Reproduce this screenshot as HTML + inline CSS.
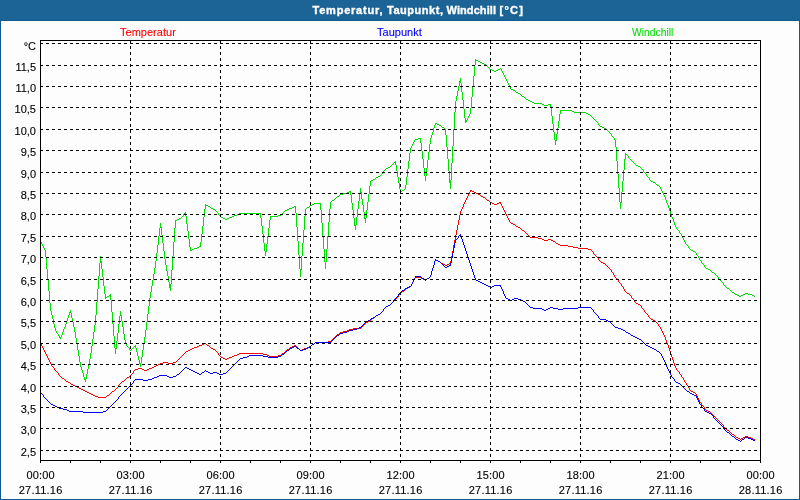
<!DOCTYPE html>
<html><head><meta charset="utf-8"><title>Temperatur, Taupunkt, Windchill</title>
<style>
html,body{margin:0;padding:0;background:#fcfdfc;}
body{width:800px;height:500px;overflow:hidden;font-family:"Liberation Sans",sans-serif;}
svg{display:block;position:absolute;left:0;top:0;}
text{font-family:"Liberation Sans",sans-serif;font-size:11px;}
</style></head><body>
<svg width="800" height="500" viewBox="0 0 800 500">
<rect x="0" y="0" width="800" height="500" fill="#fcfdfc"/>
<rect x="0" y="0" width="800" height="21" fill="#1c6396"/>
<g shape-rendering="crispEdges">
<rect x="0" y="20" width="800" height="1" fill="#115995"/>
<rect x="0" y="21" width="800" height="1" fill="#ffffff"/>
<rect x="1" y="21" width="1" height="478" fill="#ffffff"/>
<rect x="798" y="21" width="1" height="478" fill="#ffffff"/>
<rect x="1" y="498" width="798" height="1" fill="#ffffff"/>
<rect x="0" y="20" width="1" height="480" fill="#115995"/>
<rect x="799" y="20" width="1" height="480" fill="#115995"/>
<rect x="0" y="499" width="800" height="1" fill="#115995"/>
<g fill="none" stroke-width="1">
<path stroke="#00dd00" d="M40.5 241V242M41.5 242V244M42.5 244V246M43.5 246V248M44.5 248V250M45.5 250V257M46.5 257V269M47.5 269V280M48.5 280V291M49.5 291V303M50.5 303V311M51.5 311V315M52.5 315V319M53.5 319V324M54.5 324V328M55.5 328V331M56.5 331V333M57.5 333V334M58.5 334V336M59.5 336V338M60.5 337V339M61.5 335V337M62.5 332V335M63.5 329V332M64.5 327V329M65.5 324V327M66.5 321V324M67.5 318V321M68.5 315V318M69.5 312V315M70.5 310V313M71.5 313V318M72.5 318V322M73.5 322V327M74.5 327V332M75.5 332V338M76.5 338V344M77.5 344V350M78.5 350V356M79.5 356V362M80.5 362V367M81.5 367V370M82.5 370V373M83.5 373V377M84.5 377V380M85.5 379V382M86.5 374V379M87.5 369V374M88.5 364V369M89.5 359V364M90.5 353V359M91.5 346V353M92.5 339V346M93.5 332V339M94.5 325V332M95.5 315V325M96.5 302V315M97.5 289V302M98.5 276V289M99.5 263V276M100.5 256V263M101.5 261V269M102.5 269V277M103.5 277V286M104.5 286V294M105.5 294V299M106.5 297V298M107.5 296V297M108.5 296V297M109.5 295V296M110.5 294V300M111.5 300V312M112.5 312V324M113.5 324V336M114.5 336V348M115.5 348V354M116.5 341V349M117.5 333V341M118.5 324V333M119.5 316V324M120.5 311V316M121.5 315V321M122.5 321V327M123.5 327V334M124.5 334V340M125.5 340V344M126.5 344V346M127.5 346V347M128.5 347V348M129.5 348V350M130.5 350V351M131.5 349V350M132.5 348V349M133.5 347V348M134.5 346V347M135.5 345V348M136.5 348V352M137.5 352V356M138.5 356V360M139.5 360V364M140.5 363V367M141.5 357V363M142.5 350V357M143.5 343V350M144.5 337V343M145.5 330V337M146.5 322V330M147.5 314V322M148.5 306V314M149.5 298V306M150.5 292V298M151.5 286V292M152.5 280V286M153.5 274V280M154.5 268V274M155.5 261V268M156.5 253V261M157.5 245V253M158.5 236V245M159.5 228V236M160.5 223V228M161.5 227V235M162.5 235V243M163.5 243V251M164.5 251V259M165.5 259V265M166.5 265V271M167.5 271V276M168.5 276V282M169.5 282V288M170.5 284V291M171.5 270V284M172.5 256V270M173.5 242V256M174.5 228V242M175.5 220V228M176.5 220V221M177.5 219V220M178.5 219V220M179.5 218V219M180.5 218V219M181.5 217V218M182.5 216V217M183.5 214V216M184.5 213V214M185.5 212V216M186.5 216V224M187.5 224V231M188.5 231V239M189.5 239V247M190.5 247V251M191.5 250V251M192.5 249V250M193.5 249V250M194.5 248V249M195.5 248V249M196.5 248V249M197.5 247V248M198.5 247V248M199.5 246V247M200.5 242V247M201.5 234V242M202.5 226V234M203.5 217V226M204.5 209V217M205.5 204V209M206.5 205V206M207.5 205V206M208.5 206V207M209.5 206V207M210.5 207V208M211.5 208V209M212.5 208V209M213.5 209V210M214.5 209V210M215.5 210V211M216.5 211V212M217.5 212V213M218.5 213V215M219.5 215V216M220.5 216V217M221.5 217V218M222.5 217V218M223.5 218V219M224.5 218V219M225.5 219V220M226.5 219V220M227.5 218V219M228.5 218V219M229.5 217V218M230.5 217V218M231.5 217V218M232.5 216V217M233.5 216V217M234.5 215V216M235.5 215V216M236.5 215V216M237.5 214V215M238.5 214V215M239.5 213V214M240.5 213V214M241.5 213V214M242.5 213V214M243.5 213V214M244.5 213V214M245.5 213V214M246.5 213V214M247.5 213V214M248.5 213V214M249.5 213V214M250.5 213V214M251.5 213V214M252.5 213V214M253.5 213V214M254.5 213V214M255.5 213V214M256.5 213V214M257.5 213V214M258.5 213V214M259.5 213V214M260.5 213V218M261.5 218V226M262.5 226V234M263.5 234V243M264.5 243V251M265.5 251V256M266.5 244V252M267.5 236V244M268.5 228V236M269.5 220V228M270.5 216V220M271.5 216V217M272.5 216V217M273.5 216V217M274.5 216V217M275.5 216V217M276.5 216V217M277.5 216V217M278.5 215V216M279.5 215V216M280.5 215V216M281.5 214V215M282.5 213V214M283.5 212V213M284.5 211V212M285.5 210V211M286.5 210V211M287.5 209V210M288.5 209V210M289.5 208V209M290.5 208V209M291.5 208V209M292.5 207V208M293.5 207V208M294.5 206V207M295.5 206V213M296.5 213V227M297.5 227V241M298.5 241V255M299.5 255V269M300.5 269V277M301.5 256V270M302.5 243V256M303.5 230V243M304.5 216V230M305.5 209V216M306.5 208V209M307.5 207V208M308.5 207V208M309.5 206V207M310.5 205V206M311.5 205V206M312.5 204V205M313.5 204V205M314.5 203V204M315.5 203V204M316.5 203V204M317.5 203V204M318.5 203V204M319.5 203V204M320.5 203V210M321.5 210V223M322.5 223V236M323.5 236V249M324.5 249V262M325.5 262V269M326.5 249V262M327.5 236V249M328.5 222V236M329.5 209V222M330.5 202V209M331.5 201V202M332.5 200V201M333.5 200V201M334.5 199V200M335.5 198V199M336.5 197V198M337.5 196V197M338.5 196V197M339.5 195V196M340.5 194V195M341.5 194V195M342.5 194V195M343.5 193V194M344.5 193V194M345.5 193V194M346.5 193V194M347.5 192V193M348.5 192V193M349.5 191V192M350.5 191V195M351.5 195V203M352.5 203V210M353.5 210V218M354.5 218V226M355.5 225V230M356.5 217V225M357.5 209V217M358.5 201V209M359.5 193V201M360.5 188V193M361.5 192V199M362.5 199V205M363.5 205V212M364.5 212V219M365.5 218V223M366.5 210V218M367.5 202V210M368.5 194V202M369.5 186V194M370.5 181V186M371.5 180V181M372.5 180V181M373.5 179V180M374.5 179V180M375.5 178V179M376.5 177V178M377.5 177V178M378.5 176V177M379.5 176V177M380.5 175V176M381.5 174V175M382.5 173V174M383.5 171V173M384.5 170V171M385.5 169V170M386.5 168V169M387.5 168V169M388.5 167V168M389.5 167V168M390.5 166V167M391.5 165V166M392.5 164V165M393.5 163V164M394.5 162V163M395.5 161V165M396.5 165V171M397.5 171V177M398.5 177V183M399.5 183V189M400.5 189V193M401.5 191V192M402.5 190V191M403.5 190V191M404.5 189V190M405.5 185V189M406.5 177V185M407.5 169V177M408.5 161V169M409.5 153V161M410.5 148V153M411.5 146V148M412.5 144V146M413.5 142V144M414.5 140V142M415.5 139V140M416.5 139V140M417.5 139V140M418.5 138V139M419.5 138V139M420.5 138V143M421.5 143V151M422.5 151V159M423.5 159V168M424.5 168V176M425.5 176V181M426.5 168V176M427.5 160V168M428.5 152V160M429.5 144V152M430.5 138V144M431.5 135V138M432.5 132V135M433.5 128V132M434.5 125V128M435.5 123V125M436.5 123V124M437.5 124V125M438.5 124V125M439.5 125V126M440.5 125V126M441.5 126V127M442.5 127V128M443.5 127V128M444.5 128V129M445.5 129V135M446.5 135V147M447.5 147V159M448.5 159V171M449.5 171V183M450.5 180V189M451.5 163V180M452.5 146V163M453.5 129V146M454.5 112V129M455.5 101V112M456.5 96V101M457.5 91V96M458.5 86V91M459.5 81V86M460.5 78V83M461.5 83V92M462.5 92V100M463.5 100V109M464.5 109V118M465.5 118V123M466.5 120V122M467.5 118V120M468.5 116V118M469.5 114V116M470.5 108V114M471.5 97V108M472.5 87V97M473.5 76V87M474.5 65V76M475.5 59V65M476.5 60V61M477.5 60V61M478.5 61V62M479.5 61V62M480.5 62V63M481.5 62V63M482.5 63V64M483.5 63V64M484.5 64V65M485.5 64V65M486.5 65V66M487.5 66V67M488.5 67V68M489.5 68V69M490.5 69V70M491.5 69V70M492.5 70V71M493.5 70V71M494.5 71V72M495.5 71V72M496.5 70V71M497.5 70V71M498.5 69V70M499.5 69V70M500.5 68V69M501.5 69V71M502.5 71V73M503.5 73V75M504.5 75V77M505.5 77V79M506.5 79V81M507.5 81V83M508.5 83V85M509.5 85V87M510.5 87V89M511.5 89V90M512.5 89V90M513.5 90V91M514.5 90V91M515.5 91V92M516.5 92V93M517.5 92V93M518.5 93V94M519.5 93V94M520.5 94V95M521.5 95V96M522.5 96V97M523.5 96V97M524.5 97V98M525.5 98V99M526.5 99V100M527.5 99V100M528.5 100V101M529.5 100V101M530.5 101V102M531.5 101V102M532.5 102V103M533.5 102V103M534.5 103V104M535.5 103V104M536.5 103V104M537.5 103V104M538.5 103V104M539.5 103V104M540.5 103V104M541.5 103V104M542.5 104V105M543.5 104V105M544.5 105V106M545.5 105V106M546.5 105V106M547.5 105V106M548.5 104V105M549.5 104V105M550.5 104V108M551.5 108V116M552.5 116V124M553.5 124V132M554.5 132V140M555.5 140V145M556.5 134V141M557.5 128V134M558.5 121V128M559.5 114V121M560.5 110V114M561.5 110V111M562.5 110V111M563.5 110V111M564.5 110V111M565.5 110V111M566.5 110V111M567.5 110V111M568.5 110V111M569.5 110V111M570.5 110V111M571.5 110V111M572.5 111V112M573.5 111V112M574.5 112V113M575.5 112V113M576.5 112V113M577.5 112V113M578.5 112V113M579.5 112V113M580.5 112V113M581.5 112V113M582.5 112V113M583.5 112V113M584.5 112V113M585.5 112V113M586.5 113V114M587.5 113V114M588.5 114V115M589.5 114V115M590.5 115V116M591.5 116V117M592.5 117V118M593.5 118V119M594.5 119V120M595.5 120V121M596.5 121V122M597.5 122V123M598.5 123V125M599.5 125V126M600.5 126V127M601.5 126V127M602.5 127V128M603.5 127V128M604.5 128V129M605.5 128V129M606.5 129V130M607.5 130V131M608.5 131V132M609.5 132V133M610.5 133V134M611.5 134V136M612.5 136V137M613.5 137V138M614.5 138V140M615.5 140V147M616.5 147V161M617.5 161V174M618.5 174V188M619.5 188V202M620.5 202V209M621.5 192V203M622.5 181V192M623.5 170V181M624.5 159V170M625.5 153V159M626.5 154V155M627.5 155V156M628.5 156V158M629.5 158V159M630.5 159V160M631.5 160V161M632.5 161V162M633.5 162V163M634.5 163V164M635.5 164V165M636.5 165V166M637.5 165V166M638.5 166V167M639.5 166V167M640.5 167V168M641.5 168V169M642.5 169V170M643.5 170V172M644.5 172V173M645.5 173V174M646.5 174V176M647.5 176V177M648.5 177V178M649.5 178V180M650.5 180V181M651.5 181V182M652.5 181V182M653.5 182V183M654.5 182V183M655.5 183V184M656.5 184V185M657.5 185V186M658.5 185V186M659.5 186V187M660.5 187V189M661.5 189V191M662.5 191V193M663.5 193V195M664.5 195V197M665.5 197V200M666.5 200V203M667.5 203V205M668.5 205V208M669.5 208V211M670.5 211V214M671.5 214V217M672.5 217V219M673.5 219V222M674.5 222V225M675.5 225V227M676.5 227V229M677.5 229V230M678.5 230V231M679.5 231V233M680.5 233V234M681.5 234V236M682.5 236V238M683.5 238V240M684.5 240V242M685.5 242V244M686.5 244V245M687.5 245V246M688.5 246V248M689.5 248V249M690.5 249V250M691.5 250V251M692.5 250V251M693.5 251V252M694.5 251V252M695.5 252V253M696.5 253V255M697.5 255V256M698.5 256V258M699.5 258V260M700.5 260V261M701.5 261V263M702.5 263V264M703.5 264V265M704.5 265V267M705.5 267V268M706.5 268V269M707.5 268V269M708.5 269V270M709.5 269V270M710.5 270V271M711.5 271V272M712.5 272V273M713.5 272V273M714.5 273V274M715.5 274V275M716.5 275V276M717.5 276V277M718.5 277V279M719.5 279V280M720.5 280V281M721.5 281V282M722.5 282V283M723.5 283V285M724.5 285V286M725.5 286V287M726.5 287V288M727.5 288V289M728.5 288V289M729.5 289V290M730.5 290V291M731.5 291V292M732.5 292V293M733.5 292V293M734.5 293V294M735.5 294V295M736.5 294V295M737.5 295V296M738.5 295V296M739.5 296V297M740.5 296V297M741.5 295V296M742.5 295V296M743.5 294V295M744.5 294V295M745.5 293V294M746.5 293V294M747.5 293V294M748.5 294V295M749.5 294V295M750.5 294V295M751.5 294V295M752.5 295V296M753.5 295V296M754.5 296V297"/>
<path stroke="#ff0000" d="M40.5 342V344M41.5 344V346M42.5 346V348M43.5 348V350M44.5 350V352M45.5 352V354M46.5 354V356M47.5 356V358M48.5 358V360M49.5 360V362M50.5 362V364M51.5 364V366M52.5 366V367M53.5 367V368M54.5 368V370M55.5 370V371M56.5 371V372M57.5 372V373M58.5 373V375M59.5 375V376M60.5 376V377M61.5 377V378M62.5 378V379M63.5 378V379M64.5 379V380M65.5 380V381M66.5 381V382M67.5 381V382M68.5 382V383M69.5 382V383M70.5 383V384M71.5 384V385M72.5 384V385M73.5 385V386M74.5 385V386M75.5 386V387M76.5 386V387M77.5 387V388M78.5 387V388M79.5 388V389M80.5 388V389M81.5 389V390M82.5 389V390M83.5 390V391M84.5 390V391M85.5 391V392M86.5 391V392M87.5 392V393M88.5 392V393M89.5 393V394M90.5 393V394M91.5 394V395M92.5 394V395M93.5 395V396M94.5 395V396M95.5 396V397M96.5 396V397M97.5 396V397M98.5 397V398M99.5 397V398M100.5 397V398M101.5 397V398M102.5 397V398M103.5 397V398M104.5 397V398M105.5 397V398M106.5 396V397M107.5 395V396M108.5 395V396M109.5 394V395M110.5 393V394M111.5 392V393M112.5 391V392M113.5 391V392M114.5 390V391M115.5 389V390M116.5 388V389M117.5 387V388M118.5 385V387M119.5 384V385M120.5 383V384M121.5 382V383M122.5 381V382M123.5 381V382M124.5 380V381M125.5 379V380M126.5 378V379M127.5 377V378M128.5 377V378M129.5 376V377M130.5 375V376M131.5 374V375M132.5 373V374M133.5 371V373M134.5 370V371M135.5 369V370M136.5 369V370M137.5 369V370M138.5 368V369M139.5 368V369M140.5 368V369M141.5 368V369M142.5 369V370M143.5 369V370M144.5 370V371M145.5 370V371M146.5 370V371M147.5 369V370M148.5 369V370M149.5 368V369M150.5 368V369M151.5 368V369M152.5 367V368M153.5 367V368M154.5 366V367M155.5 366V367M156.5 365V366M157.5 365V366M158.5 364V365M159.5 364V365M160.5 363V364M161.5 363V364M162.5 363V364M163.5 362V363M164.5 362V363M165.5 362V363M166.5 362V363M167.5 362V363M168.5 363V364M169.5 363V364M170.5 363V364M171.5 363V364M172.5 363V364M173.5 362V363M174.5 362V363M175.5 362V363M176.5 361V362M177.5 360V361M178.5 359V360M179.5 358V359M180.5 357V358M181.5 356V357M182.5 355V356M183.5 354V355M184.5 353V354M185.5 352V353M186.5 351V352M187.5 351V352M188.5 350V351M189.5 350V351M190.5 349V350M191.5 349V350M192.5 348V349M193.5 348V349M194.5 347V348M195.5 347V348M196.5 347V348M197.5 346V347M198.5 346V347M199.5 345V346M200.5 345V346M201.5 345V346M202.5 344V345M203.5 344V345M204.5 343V344M205.5 343V344M206.5 344V345M207.5 345V346M208.5 345V346M209.5 346V347M210.5 347V348M211.5 348V349M212.5 348V349M213.5 349V350M214.5 349V350M215.5 350V351M216.5 351V352M217.5 352V353M218.5 353V355M219.5 355V356M220.5 356V357M221.5 357V358M222.5 357V358M223.5 358V359M224.5 358V359M225.5 359V360M226.5 359V360M227.5 358V359M228.5 358V359M229.5 357V358M230.5 357V358M231.5 357V358M232.5 356V357M233.5 356V357M234.5 355V356M235.5 355V356M236.5 355V356M237.5 354V355M238.5 354V355M239.5 353V354M240.5 353V354M241.5 353V354M242.5 353V354M243.5 353V354M244.5 353V354M245.5 353V354M246.5 353V354M247.5 353V354M248.5 353V354M249.5 353V354M250.5 353V354M251.5 353V354M252.5 353V354M253.5 353V354M254.5 353V354M255.5 353V354M256.5 353V354M257.5 353V354M258.5 353V354M259.5 353V354M260.5 353V354M261.5 353V354M262.5 353V354M263.5 354V355M264.5 354V355M265.5 354V355M266.5 354V355M267.5 355V356M268.5 355V356M269.5 356V357M270.5 356V357M271.5 356V357M272.5 356V357M273.5 356V357M274.5 356V357M275.5 356V357M276.5 356V357M277.5 356V357M278.5 355V356M279.5 355V356M280.5 355V356M281.5 354V355M282.5 353V354M283.5 353V354M284.5 352V353M285.5 351V352M286.5 350V351M287.5 349V350M288.5 349V350M289.5 348V349M290.5 347V348M291.5 347V348M292.5 346V347M293.5 346V347M294.5 345V346M295.5 345V346M296.5 346V347M297.5 347V348M298.5 348V349M299.5 349V350M300.5 350V351M301.5 350V351M302.5 349V350M303.5 349V350M304.5 348V349M305.5 348V349M306.5 348V349M307.5 347V348M308.5 347V348M309.5 346V347M310.5 346V347M311.5 345V346M312.5 344V345M313.5 344V345M314.5 343V344M315.5 342V343M316.5 342V343M317.5 342V343M318.5 342V343M319.5 342V343M320.5 342V343M321.5 342V343M322.5 342V343M323.5 342V343M324.5 342V343M325.5 342V343M326.5 342V343M327.5 342V343M328.5 341V342M329.5 341V342M330.5 341V342M331.5 340V341M332.5 339V340M333.5 338V339M334.5 337V338M335.5 336V337M336.5 335V336M337.5 334V335M338.5 334V335M339.5 333V334M340.5 332V333M341.5 332V333M342.5 332V333M343.5 331V332M344.5 331V332M345.5 331V332M346.5 331V332M347.5 330V331M348.5 330V331M349.5 329V330M350.5 329V330M351.5 329V330M352.5 329V330M353.5 328V329M354.5 328V329M355.5 328V329M356.5 328V329M357.5 328V329M358.5 328V329M359.5 328V329M360.5 328V329M361.5 327V328M362.5 326V327M363.5 325V326M364.5 324V325M365.5 323V324M366.5 322V323M367.5 322V323M368.5 321V322M369.5 321V322M370.5 320V321M371.5 319V320M372.5 318V319M373.5 318V319M374.5 317V318M375.5 316V317M376.5 315V316M377.5 315V316M378.5 314V315M379.5 314V315M380.5 313V314M381.5 312V313M382.5 311V312M383.5 309V311M384.5 308V309M385.5 307V308M386.5 306V307M387.5 306V307M388.5 305V306M389.5 305V306M390.5 304V305M391.5 303V304M392.5 302V303M393.5 301V302M394.5 300V301M395.5 299V300M396.5 298V299M397.5 297V298M398.5 295V297M399.5 294V295M400.5 293V294M401.5 292V293M402.5 291V292M403.5 291V292M404.5 290V291M405.5 289V290M406.5 288V289M407.5 288V289M408.5 287V288M409.5 287V288M410.5 286V287M411.5 284V286M412.5 282V284M413.5 280V282M414.5 278V280M415.5 277V278M416.5 277V278M417.5 277V278M418.5 277V278M419.5 277V278M420.5 277V278M421.5 278V279M422.5 278V279M423.5 279V280M424.5 279V280M425.5 280V281M426.5 279V280M427.5 278V279M428.5 278V279M429.5 277V278M430.5 275V277M431.5 271V275M432.5 268V271M433.5 265V268M434.5 261V265M435.5 259V261M436.5 260V261M437.5 260V261M438.5 261V262M439.5 261V262M440.5 262V263M441.5 263V264M442.5 263V264M443.5 264V265M444.5 264V265M445.5 265V266M446.5 265V266M447.5 264V265M448.5 264V265M449.5 263V264M450.5 261V264M451.5 256V261M452.5 251V256M453.5 245V251M454.5 240V245M455.5 235V240M456.5 230V235M457.5 225V230M458.5 220V225M459.5 215V220M460.5 211V215M461.5 209V211M462.5 207V209M463.5 204V207M464.5 202V204M465.5 200V202M466.5 198V200M467.5 196V198M468.5 194V196M469.5 192V194M470.5 190V192M471.5 190V191M472.5 191V192M473.5 191V192M474.5 192V193M475.5 192V193M476.5 193V194M477.5 193V194M478.5 194V195M479.5 194V195M480.5 195V196M481.5 196V197M482.5 196V197M483.5 197V198M484.5 197V198M485.5 198V199M486.5 199V200M487.5 200V201M488.5 200V201M489.5 201V202M490.5 202V203M491.5 202V203M492.5 203V204M493.5 203V204M494.5 204V205M495.5 204V205M496.5 204V205M497.5 203V204M498.5 203V204M499.5 202V203M500.5 202V204M501.5 204V206M502.5 206V208M503.5 208V210M504.5 210V212M505.5 212V214M506.5 214V216M507.5 216V218M508.5 218V220M509.5 220V222M510.5 222V223M511.5 223V224M512.5 223V224M513.5 224V225M514.5 224V225M515.5 225V226M516.5 226V227M517.5 226V227M518.5 227V228M519.5 227V228M520.5 228V229M521.5 229V230M522.5 230V231M523.5 230V231M524.5 231V232M525.5 232V233M526.5 233V234M527.5 234V235M528.5 235V236M529.5 236V237M530.5 237V238M531.5 237V238M532.5 237V238M533.5 237V238M534.5 237V238M535.5 237V238M536.5 237V238M537.5 237V238M538.5 238V239M539.5 238V239M540.5 238V239M541.5 238V239M542.5 239V240M543.5 239V240M544.5 240V241M545.5 240V241M546.5 240V241M547.5 240V241M548.5 239V240M549.5 239V240M550.5 239V240M551.5 240V241M552.5 240V241M553.5 241V242M554.5 241V242M555.5 242V243M556.5 243V244M557.5 243V244M558.5 244V245M559.5 244V245M560.5 245V246M561.5 245V246M562.5 245V246M563.5 245V246M564.5 245V246M565.5 245V246M566.5 245V246M567.5 245V246M568.5 246V247M569.5 246V247M570.5 246V247M571.5 246V247M572.5 246V247M573.5 247V248M574.5 247V248M575.5 247V248M576.5 247V248M577.5 247V248M578.5 248V249M579.5 248V249M580.5 248V249M581.5 248V249M582.5 248V249M583.5 248V249M584.5 248V249M585.5 248V249M586.5 248V249M587.5 248V249M588.5 249V250M589.5 249V250M590.5 249V250M591.5 250V251M592.5 251V252M593.5 252V254M594.5 254V255M595.5 255V256M596.5 256V257M597.5 257V258M598.5 258V260M599.5 260V261M600.5 261V262M601.5 262V263M602.5 262V263M603.5 263V264M604.5 263V264M605.5 264V265M606.5 265V266M607.5 266V267M608.5 267V268M609.5 268V269M610.5 269V270M611.5 270V272M612.5 272V273M613.5 273V275M614.5 275V277M615.5 277V278M616.5 278V279M617.5 279V280M618.5 280V282M619.5 282V283M620.5 283V284M621.5 284V286M622.5 286V287M623.5 287V289M624.5 289V291M625.5 291V292M626.5 292V293M627.5 293V294M628.5 293V294M629.5 294V295M630.5 295V296M631.5 296V298M632.5 298V299M633.5 299V300M634.5 300V302M635.5 302V303M636.5 303V304M637.5 303V304M638.5 304V305M639.5 304V305M640.5 305V306M641.5 306V308M642.5 308V309M643.5 309V310M644.5 310V312M645.5 312V313M646.5 313V314M647.5 314V315M648.5 315V317M649.5 317V318M650.5 318V319M651.5 319V320M652.5 319V320M653.5 320V321M654.5 320V321M655.5 321V322M656.5 322V323M657.5 323V324M658.5 324V326M659.5 326V327M660.5 327V329M661.5 329V331M662.5 331V333M663.5 333V335M664.5 335V337M665.5 337V340M666.5 340V343M667.5 343V345M668.5 345V348M669.5 348V351M670.5 351V354M671.5 354V357M672.5 357V360M673.5 360V363M674.5 363V366M675.5 366V368M676.5 368V370M677.5 370V371M678.5 371V372M679.5 372V374M680.5 374V375M681.5 375V377M682.5 377V378M683.5 378V380M684.5 380V382M685.5 382V383M686.5 383V385M687.5 385V386M688.5 386V388M689.5 388V390M690.5 390V391M691.5 391V392M692.5 391V392M693.5 392V393M694.5 392V393M695.5 393V394M696.5 394V396M697.5 396V398M698.5 398V400M699.5 400V402M700.5 402V403M701.5 403V405M702.5 405V406M703.5 406V407M704.5 407V409M705.5 409V410M706.5 410V411M707.5 410V411M708.5 411V412M709.5 411V412M710.5 412V413M711.5 413V414M712.5 414V415M713.5 415V416M714.5 416V417M715.5 417V418M716.5 418V419M717.5 419V420M718.5 420V421M719.5 421V422M720.5 422V423M721.5 423V424M722.5 424V425M723.5 425V427M724.5 427V428M725.5 428V429M726.5 429V430M727.5 430V431M728.5 430V431M729.5 431V432M730.5 432V433M731.5 433V434M732.5 434V435M733.5 434V435M734.5 435V436M735.5 436V437M736.5 437V438M737.5 437V438M738.5 438V439M739.5 438V439M740.5 439V440M741.5 438V439M742.5 438V439M743.5 437V438M744.5 437V438M745.5 436V437M746.5 436V437M747.5 436V437M748.5 437V438M749.5 437V438M750.5 437V438M751.5 438V439M752.5 438V439M753.5 439V440M754.5 439V440"/>
<path stroke="#0000ff" d="M40.5 392V393M41.5 393V394M42.5 394V395M43.5 395V397M44.5 397V398M45.5 398V399M46.5 399V400M47.5 400V401M48.5 401V402M49.5 402V403M50.5 403V404M51.5 404V405M52.5 404V405M53.5 405V406M54.5 405V406M55.5 406V407M56.5 406V407M57.5 407V408M58.5 407V408M59.5 408V409M60.5 408V409M61.5 408V409M62.5 408V409M63.5 409V410M64.5 409V410M65.5 409V410M66.5 409V410M67.5 410V411M68.5 410V411M69.5 411V412M70.5 411V412M71.5 411V412M72.5 411V412M73.5 411V412M74.5 411V412M75.5 411V412M76.5 411V412M77.5 411V412M78.5 411V412M79.5 411V412M80.5 411V412M81.5 411V412M82.5 411V412M83.5 412V413M84.5 412V413M85.5 412V413M86.5 412V413M87.5 412V413M88.5 412V413M89.5 412V413M90.5 412V413M91.5 412V413M92.5 412V413M93.5 412V413M94.5 412V413M95.5 412V413M96.5 412V413M97.5 412V413M98.5 412V413M99.5 412V413M100.5 412V413M101.5 412V413M102.5 412V413M103.5 411V412M104.5 411V412M105.5 411V412M106.5 410V411M107.5 409V410M108.5 408V409M109.5 407V408M110.5 406V407M111.5 405V406M112.5 404V405M113.5 403V404M114.5 402V403M115.5 401V402M116.5 400V401M117.5 399V400M118.5 397V399M119.5 396V397M120.5 395V396M121.5 394V395M122.5 393V394M123.5 392V393M124.5 391V392M125.5 390V391M126.5 389V390M127.5 388V389M128.5 387V388M129.5 386V387M130.5 385V386M131.5 384V385M132.5 383V384M133.5 381V383M134.5 380V381M135.5 379V380M136.5 379V380M137.5 379V380M138.5 379V380M139.5 379V380M140.5 379V380M141.5 379V380M142.5 379V380M143.5 380V381M144.5 380V381M145.5 380V381M146.5 380V381M147.5 380V381M148.5 379V380M149.5 379V380M150.5 379V380M151.5 379V380M152.5 378V379M153.5 378V379M154.5 377V378M155.5 377V378M156.5 377V378M157.5 376V377M158.5 376V377M159.5 375V376M160.5 375V376M161.5 375V376M162.5 375V376M163.5 375V376M164.5 375V376M165.5 375V376M166.5 375V376M167.5 376V377M168.5 376V377M169.5 377V378M170.5 377V378M171.5 377V378M172.5 377V378M173.5 376V377M174.5 376V377M175.5 376V377M176.5 375V376M177.5 374V375M178.5 374V375M179.5 373V374M180.5 372V373M181.5 371V372M182.5 370V371M183.5 369V370M184.5 368V369M185.5 367V368M186.5 367V368M187.5 368V369M188.5 368V369M189.5 369V370M190.5 369V370M191.5 370V371M192.5 370V371M193.5 371V372M194.5 371V372M195.5 372V373M196.5 372V373M197.5 373V374M198.5 373V374M199.5 374V375M200.5 374V375M201.5 373V374M202.5 372V373M203.5 372V373M204.5 371V372M205.5 370V371M206.5 371V372M207.5 371V372M208.5 372V373M209.5 372V373M210.5 373V374M211.5 373V374M212.5 373V374M213.5 372V373M214.5 372V373M215.5 372V373M216.5 372V373M217.5 373V374M218.5 373V374M219.5 374V375M220.5 374V375M221.5 374V375M222.5 374V375M223.5 373V374M224.5 373V374M225.5 373V374M226.5 372V373M227.5 371V372M228.5 370V371M229.5 369V370M230.5 368V369M231.5 367V368M232.5 366V367M233.5 365V366M234.5 364V365M235.5 363V364M236.5 362V363M237.5 361V362M238.5 360V361M239.5 359V360M240.5 358V359M241.5 358V359M242.5 358V359M243.5 357V358M244.5 357V358M245.5 357V358M246.5 357V358M247.5 356V357M248.5 356V357M249.5 355V356M250.5 355V356M251.5 355V356M252.5 355V356M253.5 355V356M254.5 355V356M255.5 355V356M256.5 355V356M257.5 355V356M258.5 355V356M259.5 355V356M260.5 355V356M261.5 355V356M262.5 355V356M263.5 356V357M264.5 356V357M265.5 356V357M266.5 356V357M267.5 356V357M268.5 357V358M269.5 357V358M270.5 357V358M271.5 357V358M272.5 357V358M273.5 357V358M274.5 357V358M275.5 357V358M276.5 357V358M277.5 357V358M278.5 356V357M279.5 356V357M280.5 356V357M281.5 355V356M282.5 354V355M283.5 354V355M284.5 353V354M285.5 352V353M286.5 351V352M287.5 350V351M288.5 350V351M289.5 349V350M290.5 348V349M291.5 348V349M292.5 347V348M293.5 347V348M294.5 346V347M295.5 346V347M296.5 347V348M297.5 348V349M298.5 348V349M299.5 349V350M300.5 350V351M301.5 350V351M302.5 350V351M303.5 349V350M304.5 349V350M305.5 349V350M306.5 348V349M307.5 348V349M308.5 347V348M309.5 347V348M310.5 346V347M311.5 345V346M312.5 344V345M313.5 344V345M314.5 343V344M315.5 342V343M316.5 342V343M317.5 342V343M318.5 342V343M319.5 342V343M320.5 342V343M321.5 342V343M322.5 342V343M323.5 342V343M324.5 342V343M325.5 342V343M326.5 342V343M327.5 342V343M328.5 342V343M329.5 342V343M330.5 342V343M331.5 341V342M332.5 340V341M333.5 339V340M334.5 338V339M335.5 337V338M336.5 336V337M337.5 335V336M338.5 335V336M339.5 334V335M340.5 333V334M341.5 333V334M342.5 333V334M343.5 332V333M344.5 332V333M345.5 332V333M346.5 332V333M347.5 331V332M348.5 331V332M349.5 330V331M350.5 330V331M351.5 330V331M352.5 330V331M353.5 329V330M354.5 329V330M355.5 329V330M356.5 329V330M357.5 328V329M358.5 328V329M359.5 327V328M360.5 327V328M361.5 326V327M362.5 325V326M363.5 324V325M364.5 323V324M365.5 322V323M366.5 321V322M367.5 321V322M368.5 320V321M369.5 320V321M370.5 319V320M371.5 318V319M372.5 318V319M373.5 317V318M374.5 317V318M375.5 316V317M376.5 315V316M377.5 315V316M378.5 314V315M379.5 314V315M380.5 313V314M381.5 312V313M382.5 311V312M383.5 309V311M384.5 308V309M385.5 307V308M386.5 306V307M387.5 306V307M388.5 305V306M389.5 305V306M390.5 304V305M391.5 303V304M392.5 302V303M393.5 300V302M394.5 299V300M395.5 298V299M396.5 297V298M397.5 296V297M398.5 294V296M399.5 293V294M400.5 292V293M401.5 291V292M402.5 290V291M403.5 290V291M404.5 289V290M405.5 288V289M406.5 288V289M407.5 287V288M408.5 287V288M409.5 286V287M410.5 286V287M411.5 284V286M412.5 282V284M413.5 280V282M414.5 278V280M415.5 276V278M416.5 276V277M417.5 276V277M418.5 276V277M419.5 276V277M420.5 276V277M421.5 277V278M422.5 278V279M423.5 278V279M424.5 279V280M425.5 280V281M426.5 279V280M427.5 278V279M428.5 278V279M429.5 277V278M430.5 275V277M431.5 271V275M432.5 268V271M433.5 265V268M434.5 261V265M435.5 259V261M436.5 260V261M437.5 260V261M438.5 261V262M439.5 261V262M440.5 262V263M441.5 263V264M442.5 264V265M443.5 265V266M444.5 266V267M445.5 267V268M446.5 267V268M447.5 266V267M448.5 266V267M449.5 265V266M450.5 263V266M451.5 258V263M452.5 253V258M453.5 248V253M454.5 243V248M455.5 240V243M456.5 239V240M457.5 238V239M458.5 236V238M459.5 235V236M460.5 234V236M461.5 236V239M462.5 239V242M463.5 242V245M464.5 245V248M465.5 248V251M466.5 251V254M467.5 254V257M468.5 257V260M469.5 260V263M470.5 263V266M471.5 266V269M472.5 269V272M473.5 272V275M474.5 275V278M475.5 278V280M476.5 280V281M477.5 280V281M478.5 281V282M479.5 281V282M480.5 282V283M481.5 282V283M482.5 283V284M483.5 283V284M484.5 284V285M485.5 284V285M486.5 285V286M487.5 285V286M488.5 286V287M489.5 286V287M490.5 287V288M491.5 287V288M492.5 286V287M493.5 286V287M494.5 285V286M495.5 285V286M496.5 285V286M497.5 285V286M498.5 285V286M499.5 285V286M500.5 285V287M501.5 287V289M502.5 289V291M503.5 291V294M504.5 294V296M505.5 296V298M506.5 298V299M507.5 298V299M508.5 299V300M509.5 299V300M510.5 300V301M511.5 300V301M512.5 299V300M513.5 299V300M514.5 298V299M515.5 298V299M516.5 298V299M517.5 298V299M518.5 299V300M519.5 299V300M520.5 299V300M521.5 300V301M522.5 300V301M523.5 301V302M524.5 301V302M525.5 302V303M526.5 303V304M527.5 304V305M528.5 305V306M529.5 306V307M530.5 307V308M531.5 307V308M532.5 307V308M533.5 308V309M534.5 308V309M535.5 308V309M536.5 308V309M537.5 308V309M538.5 308V309M539.5 308V309M540.5 308V309M541.5 308V309M542.5 309V310M543.5 309V310M544.5 310V311M545.5 310V311M546.5 309V310M547.5 309V310M548.5 308V309M549.5 308V309M550.5 307V308M551.5 307V308M552.5 307V308M553.5 308V309M554.5 308V309M555.5 308V309M556.5 308V309M557.5 308V309M558.5 309V310M559.5 309V310M560.5 309V310M561.5 309V310M562.5 309V310M563.5 308V309M564.5 308V309M565.5 308V309M566.5 308V309M567.5 308V309M568.5 308V309M569.5 308V309M570.5 308V309M571.5 308V309M572.5 308V309M573.5 308V309M574.5 308V309M575.5 308V309M576.5 308V309M577.5 308V309M578.5 307V308M579.5 307V308M580.5 307V308M581.5 307V308M582.5 307V308M583.5 307V308M584.5 307V308M585.5 307V308M586.5 307V308M587.5 307V308M588.5 307V308M589.5 307V308M590.5 307V308M591.5 308V309M592.5 309V310M593.5 310V312M594.5 312V313M595.5 313V314M596.5 314V315M597.5 315V316M598.5 316V318M599.5 318V319M600.5 319V320M601.5 319V320M602.5 319V320M603.5 319V320M604.5 319V320M605.5 319V320M606.5 320V321M607.5 320V321M608.5 321V322M609.5 321V322M610.5 322V323M611.5 323V324M612.5 324V325M613.5 325V326M614.5 326V327M615.5 327V328M616.5 327V328M617.5 327V328M618.5 328V329M619.5 328V329M620.5 328V329M621.5 329V330M622.5 329V330M623.5 330V331M624.5 330V331M625.5 331V332M626.5 332V333M627.5 332V333M628.5 333V334M629.5 333V334M630.5 334V335M631.5 335V336M632.5 335V336M633.5 336V337M634.5 336V337M635.5 337V338M636.5 337V338M637.5 338V339M638.5 338V339M639.5 339V340M640.5 339V340M641.5 340V341M642.5 341V342M643.5 342V343M644.5 343V344M645.5 344V345M646.5 345V346M647.5 345V346M648.5 346V347M649.5 346V347M650.5 347V348M651.5 347V348M652.5 348V349M653.5 348V349M654.5 349V350M655.5 349V350M656.5 350V351M657.5 351V352M658.5 351V352M659.5 352V353M660.5 353V354M661.5 354V356M662.5 356V358M663.5 358V360M664.5 360V362M665.5 362V365M666.5 365V367M667.5 367V369M668.5 369V371M669.5 371V373M670.5 373V375M671.5 375V377M672.5 377V378M673.5 378V379M674.5 379V381M675.5 381V382M676.5 382V383M677.5 382V383M678.5 383V384M679.5 383V384M680.5 384V385M681.5 385V386M682.5 386V387M683.5 387V388M684.5 388V389M685.5 389V390M686.5 390V391M687.5 391V392M688.5 391V392M689.5 392V393M690.5 393V394M691.5 393V394M692.5 394V395M693.5 394V395M694.5 395V396M695.5 395V396M696.5 396V398M697.5 398V400M698.5 400V402M699.5 402V404M700.5 404V405M701.5 405V407M702.5 407V408M703.5 408V409M704.5 409V411M705.5 411V412M706.5 411V412M707.5 412V413M708.5 412V413M709.5 413V414M710.5 413V414M711.5 414V415M712.5 415V416M713.5 416V418M714.5 418V419M715.5 419V420M716.5 420V421M717.5 421V422M718.5 422V423M719.5 423V424M720.5 424V425M721.5 425V426M722.5 426V427M723.5 427V429M724.5 429V430M725.5 430V431M726.5 431V432M727.5 432V433M728.5 432V433M729.5 433V434M730.5 434V435M731.5 435V436M732.5 436V437M733.5 436V437M734.5 437V438M735.5 438V439M736.5 439V440M737.5 439V440M738.5 440V441M739.5 440V441M740.5 441V442M741.5 440V441M742.5 439V440M743.5 439V440M744.5 438V439M745.5 437V438M746.5 437V438M747.5 437V438M748.5 438V439M749.5 438V439M750.5 438V439M751.5 439V440M752.5 439V440M753.5 440V441M754.5 440V441"/>
</g>
<g stroke="#000" stroke-width="1" stroke-dasharray="3 3" fill="none">
<line x1="40" y1="43.5" x2="760" y2="43.5"/>
<line x1="40" y1="65.5" x2="760" y2="65.5"/>
<line x1="40" y1="86.5" x2="760" y2="86.5"/>
<line x1="40" y1="107.5" x2="760" y2="107.5"/>
<line x1="40" y1="129.5" x2="760" y2="129.5"/>
<line x1="40" y1="150.5" x2="760" y2="150.5"/>
<line x1="40" y1="172.5" x2="760" y2="172.5"/>
<line x1="40" y1="193.5" x2="760" y2="193.5"/>
<line x1="40" y1="214.5" x2="760" y2="214.5"/>
<line x1="40" y1="236.5" x2="760" y2="236.5"/>
<line x1="40" y1="257.5" x2="760" y2="257.5"/>
<line x1="40" y1="279.5" x2="760" y2="279.5"/>
<line x1="40" y1="300.5" x2="760" y2="300.5"/>
<line x1="40" y1="321.5" x2="760" y2="321.5"/>
<line x1="40" y1="343.5" x2="760" y2="343.5"/>
<line x1="40" y1="364.5" x2="760" y2="364.5"/>
<line x1="40" y1="386.5" x2="760" y2="386.5"/>
<line x1="40" y1="407.5" x2="760" y2="407.5"/>
<line x1="40" y1="428.5" x2="760" y2="428.5"/>
<line x1="40" y1="450.5" x2="760" y2="450.5"/>
<line x1="130.5" y1="40" x2="130.5" y2="460"/>
<line x1="220.5" y1="40" x2="220.5" y2="460"/>
<line x1="310.5" y1="40" x2="310.5" y2="460"/>
<line x1="400.5" y1="40" x2="400.5" y2="460"/>
<line x1="490.5" y1="40" x2="490.5" y2="460"/>
<line x1="580.5" y1="40" x2="580.5" y2="460"/>
<line x1="670.5" y1="40" x2="670.5" y2="460"/>
</g>
<rect x="40.5" y="40.5" width="720" height="420" fill="none" stroke="#000" stroke-width="1"/>
<g fill="#000">
<rect x="40" y="461" width="1" height="2"/>
<rect x="70" y="461" width="1" height="2"/>
<rect x="100" y="461" width="1" height="2"/>
<rect x="130" y="461" width="1" height="2"/>
<rect x="160" y="461" width="1" height="2"/>
<rect x="190" y="461" width="1" height="2"/>
<rect x="220" y="461" width="1" height="2"/>
<rect x="250" y="461" width="1" height="2"/>
<rect x="280" y="461" width="1" height="2"/>
<rect x="310" y="461" width="1" height="2"/>
<rect x="340" y="461" width="1" height="2"/>
<rect x="370" y="461" width="1" height="2"/>
<rect x="400" y="461" width="1" height="2"/>
<rect x="430" y="461" width="1" height="2"/>
<rect x="460" y="461" width="1" height="2"/>
<rect x="490" y="461" width="1" height="2"/>
<rect x="520" y="461" width="1" height="2"/>
<rect x="550" y="461" width="1" height="2"/>
<rect x="580" y="461" width="1" height="2"/>
<rect x="610" y="461" width="1" height="2"/>
<rect x="640" y="461" width="1" height="2"/>
<rect x="670" y="461" width="1" height="2"/>
<rect x="700" y="461" width="1" height="2"/>
<rect x="730" y="461" width="1" height="2"/>
<rect x="760" y="461" width="1" height="2"/>
</g>
</g>
<defs><filter id="idf" x="0" y="0" width="100%" height="100%" filterUnits="userSpaceOnUse" color-interpolation-filters="sRGB"><feColorMatrix type="matrix" values="1 0 0 0 0  0 1 0 0 0  0 0 1 0 0  0 0 0 1 0"/></filter></defs>
<g filter="url(#idf)" stroke-width="0.12" paint-order="stroke">
<g fill="#fff" stroke="#fff" stroke-width="0.35" font-weight="bold" lengthAdjust="spacing"><text x="312.5" y="14" textLength="70">Temperatur,</text><text x="387" y="14" textLength="56">Taupunkt,</text><text x="446.5" y="14" textLength="49.5">Windchill</text><text x="499.5" y="14" textLength="23.5">[°C]</text></g>
<text x="120" y="36" fill="#ff0000" stroke="#ff0000" textLength="55.8" lengthAdjust="spacing">Temperatur</text>
<text x="377" y="36" fill="#0000ff" stroke="#0000ff" textLength="44.8" lengthAdjust="spacing">Taupunkt</text>
<text x="632" y="36" fill="#00dd00" stroke="#00dd00" textLength="41.3" lengthAdjust="spacingAndGlyphs">Windchill</text>
<g fill="#000" stroke="#000" text-anchor="end">
<text x="36" y="50">°C</text>
<text x="36" y="71">11,5</text>
<text x="36" y="92">11,0</text>
<text x="36" y="113">10,5</text>
<text x="36" y="135">10,0</text>
<text x="36" y="156">9,5</text>
<text x="36" y="178">9,0</text>
<text x="36" y="199">8,5</text>
<text x="36" y="220">8,0</text>
<text x="36" y="242">7,5</text>
<text x="36" y="263">7,0</text>
<text x="36" y="285">6,5</text>
<text x="36" y="306">6,0</text>
<text x="36" y="327">5,5</text>
<text x="36" y="349">5,0</text>
<text x="36" y="370">4,5</text>
<text x="36" y="392">4,0</text>
<text x="36" y="413">3,5</text>
<text x="36" y="434">3,0</text>
<text x="36" y="456">2,5</text>
</g>
<g fill="#000" stroke="#000" text-anchor="middle">
<text x="40.5" y="479" textLength="28" lengthAdjust="spacing">00:00</text><text x="40.5" y="494" textLength="43.5" lengthAdjust="spacing">27.11.16</text>
<text x="130.5" y="479" textLength="28" lengthAdjust="spacing">03:00</text><text x="130.5" y="494" textLength="43.5" lengthAdjust="spacing">27.11.16</text>
<text x="220.5" y="479" textLength="28" lengthAdjust="spacing">06:00</text><text x="220.5" y="494" textLength="43.5" lengthAdjust="spacing">27.11.16</text>
<text x="310.5" y="479" textLength="28" lengthAdjust="spacing">09:00</text><text x="310.5" y="494" textLength="43.5" lengthAdjust="spacing">27.11.16</text>
<text x="400.5" y="479" textLength="28" lengthAdjust="spacing">12:00</text><text x="400.5" y="494" textLength="43.5" lengthAdjust="spacing">27.11.16</text>
<text x="490.5" y="479" textLength="28" lengthAdjust="spacing">15:00</text><text x="490.5" y="494" textLength="43.5" lengthAdjust="spacing">27.11.16</text>
<text x="580.5" y="479" textLength="28" lengthAdjust="spacing">18:00</text><text x="580.5" y="494" textLength="43.5" lengthAdjust="spacing">27.11.16</text>
<text x="670.5" y="479" textLength="28" lengthAdjust="spacing">21:00</text><text x="670.5" y="494" textLength="43.5" lengthAdjust="spacing">27.11.16</text>
<text x="760.5" y="479" textLength="28" lengthAdjust="spacing">00:00</text><text x="760.5" y="494" textLength="43.5" lengthAdjust="spacing">28.11.16</text>
</g>
</g>
</svg>
</body></html>
